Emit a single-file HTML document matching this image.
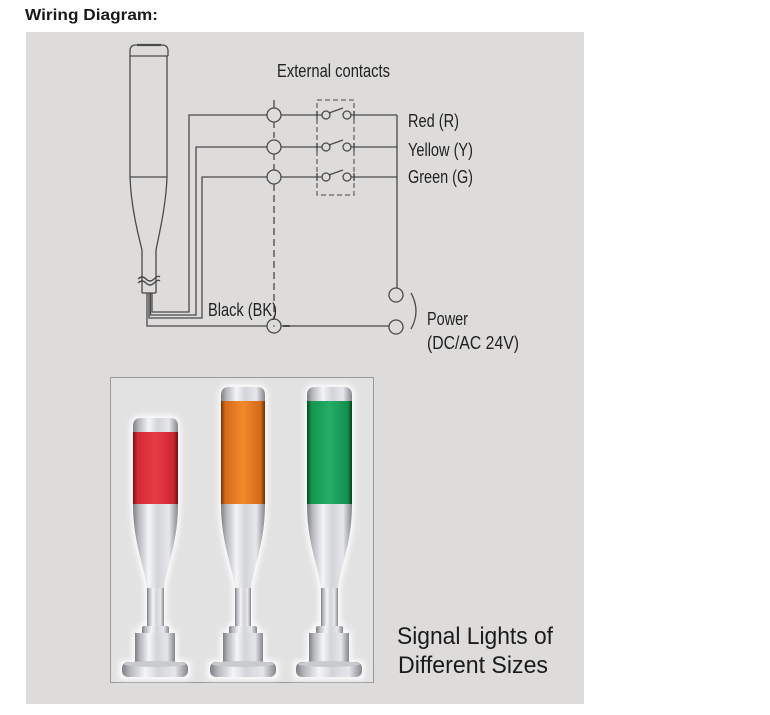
<!DOCTYPE html>
<html><head><meta charset="utf-8"><style>
html,body{margin:0;padding:0;background:#fff;width:770px;height:715px;overflow:hidden}
svg{display:block}
</style></head><body>
<svg width="770" height="715" viewBox="0 0 770 715" xmlns="http://www.w3.org/2000/svg">
<defs>
<linearGradient id="sil" x1="0" y1="0" x2="1" y2="0">
<stop offset="0" stop-color="#7d7f84"/><stop offset="0.12" stop-color="#b4b6ba"/><stop offset="0.35" stop-color="#f4f5f7"/><stop offset="0.55" stop-color="#d2d4d8"/><stop offset="0.8" stop-color="#e6e7ea"/><stop offset="1" stop-color="#85878c"/>
</linearGradient>
<linearGradient id="red" x1="0" y1="0" x2="1" y2="0">
<stop offset="0" stop-color="#7a1216"/><stop offset="0.1" stop-color="#d42a33"/><stop offset="0.5" stop-color="#e83d48"/><stop offset="0.9" stop-color="#cc2530"/><stop offset="1" stop-color="#6e1014"/>
</linearGradient>
<linearGradient id="org" x1="0" y1="0" x2="1" y2="0">
<stop offset="0" stop-color="#7a3408"/><stop offset="0.1" stop-color="#d9691a"/><stop offset="0.5" stop-color="#f08a2c"/><stop offset="0.9" stop-color="#d66a18"/><stop offset="1" stop-color="#6e2e06"/>
</linearGradient>
<linearGradient id="grn" x1="0" y1="0" x2="1" y2="0">
<stop offset="0" stop-color="#064a24"/><stop offset="0.1" stop-color="#139650"/><stop offset="0.5" stop-color="#25ad66"/><stop offset="0.9" stop-color="#12914c"/><stop offset="1" stop-color="#05441f"/>
</linearGradient>
<filter id="glow" x="-30%" y="-10%" width="160%" height="120%"><feGaussianBlur stdDeviation="3"/></filter>
</defs>

<text x="25" y="20" font-family="Liberation Sans, sans-serif" font-weight="bold" font-size="16" fill="#1a1a1a" textLength="133" lengthAdjust="spacingAndGlyphs">Wiring Diagram:</text>

<rect x="26" y="32" width="558" height="672" fill="#dddcdb"/>

<g fill="none" stroke="#4a4a4a" stroke-width="1.3">
<!-- tower outline -->
<path d="M130,56 L130,51 Q130,45 136,45 L162,45 Q168,45 168,51 L168,56"/>
<line x1="137" y1="45" x2="161" y2="45" stroke-width="2.2"/>
<line x1="130" y1="56" x2="168" y2="56"/>
<line x1="130" y1="56" x2="130" y2="177"/>
<line x1="167" y1="56" x2="167" y2="177"/>
<line x1="130" y1="177" x2="167" y2="177"/>
<path d="M130,177 C131,205 137,230 142,250 L142,293"/>
<path d="M167,177 C166,205 160,230 156,250 L156,293"/>
<line x1="142" y1="293" x2="156" y2="293"/>
<path d="M138,279 q4,-4 8,0 t8,0 t6,-2"/>
<path d="M138,283 q4,-4 8,0 t8,0 t6,-2"/>
<!-- wires -->
<path d="M147,293 L147,326 L267,326"/>
<path d="M149,293 L149,318 L202,318 L202,177 L267,177"/>
<path d="M150.5,293 L150.5,315 L196,315 L196,147 L267,147"/>
<path d="M152,293 L152,312 L189,312 L189,115 L267,115"/>
<!-- terminal circles -->
<circle cx="274" cy="115" r="7"/>
<circle cx="274" cy="147" r="7"/>
<circle cx="274" cy="177" r="7"/>
<circle cx="274" cy="326" r="7"/>
<line x1="274" y1="100" x2="274" y2="108"/>
<path d="M274,122 L274,140 M274,154 L274,170" stroke-dasharray="6,4"/>
<line x1="274" y1="184" x2="274" y2="319" stroke-dasharray="7,4"/>
<!-- lines to switches -->
<line x1="281" y1="115" x2="322" y2="115"/>
<line x1="281" y1="147" x2="322" y2="147"/>
<line x1="281" y1="177" x2="322" y2="177"/>
<!-- switch box -->
<rect x="317" y="100" width="37" height="95" stroke-dasharray="5,3" stroke="#666"/>
<circle cx="326" cy="115" r="4"/><circle cx="347" cy="115" r="4"/><line x1="329" y1="113" x2="343" y2="108"/>
<circle cx="326" cy="147" r="4"/><circle cx="347" cy="147" r="4"/><line x1="329" y1="145" x2="343" y2="140"/>
<circle cx="326" cy="177" r="4"/><circle cx="347" cy="177" r="4"/><line x1="329" y1="175" x2="343" y2="170"/>
<line x1="317" y1="111" x2="317" y2="119"/><line x1="354" y1="111" x2="354" y2="119"/>
<line x1="317" y1="143" x2="317" y2="151"/><line x1="354" y1="143" x2="354" y2="151"/>
<line x1="317" y1="173" x2="317" y2="181"/><line x1="354" y1="173" x2="354" y2="181"/>
<line x1="351" y1="115" x2="397" y2="115"/>
<line x1="351" y1="147" x2="397" y2="147"/>
<line x1="351" y1="177" x2="397" y2="177"/>
<line x1="397" y1="115" x2="397" y2="288"/>
<!-- power -->
<circle cx="396" cy="295" r="7"/>
<circle cx="396" cy="327" r="7"/>
<line x1="281" y1="326" x2="389" y2="326"/>
<line x1="283" y1="326" x2="290" y2="326" stroke-width="2"/>
<path d="M411,293 Q421,311 411,329"/>
</g>
<circle cx="274" cy="326" r="0.8" fill="#4a4a4a"/>

<g font-family="Liberation Sans, sans-serif" fill="#222" font-size="18">
<text x="277" y="77" textLength="113" lengthAdjust="spacingAndGlyphs">External contacts</text>
<text x="408" y="127" textLength="51" lengthAdjust="spacingAndGlyphs">Red (R)</text>
<text x="408" y="156" textLength="65" lengthAdjust="spacingAndGlyphs">Yellow (Y)</text>
<text x="408" y="183" textLength="65" lengthAdjust="spacingAndGlyphs">Green (G)</text>
<text x="208" y="316" textLength="69" lengthAdjust="spacingAndGlyphs">Black (BK)</text>
<text x="427" y="325" textLength="41" lengthAdjust="spacingAndGlyphs">Power</text>
<text x="427" y="349" textLength="92" lengthAdjust="spacingAndGlyphs">(DC/AC 24V)</text>
</g>

<!-- photo box -->
<rect x="110.5" y="377.5" width="263" height="305" fill="#e2e2e2" stroke="#9a9a9a" stroke-width="1"/>

<!-- glows -->
<g fill="#ffffff" stroke="#ffffff" stroke-width="5" filter="url(#glow)" opacity="0.95">
<path d="M133,426 Q133,418 141,418 L170,418 Q178,418 178,426 L178,504 C178,545 165,570 164,590 L164,626 L168,626 L168,633 L175,633 L175,663 L188,663 L188,677 L122,677 L122,663 L135,663 L135,633 L142,633 L142,626 L147,626 L147,590 C146,570 133,545 133,504 Z"/>
<path d="M221,395 Q221,387 229,387 L257,387 Q265,387 265,395 L265,504 C265,545 252,570 251,590 L251,626 L256,626 L256,633 L263,633 L263,663 L276,663 L276,677 L210,677 L210,663 L223,663 L223,633 L230,633 L230,626 L235,626 L235,590 C234,570 221,545 221,504 Z"/>
<path d="M307,395 Q307,387 315,387 L344,387 Q352,387 352,395 L352,504 C352,545 339,570 338,590 L338,626 L342,626 L342,633 L349,633 L349,663 L362,663 L362,677 L296,677 L296,663 L309,663 L309,633 L316,633 L316,626 L321,626 L321,590 C320,570 307,545 307,504 Z"/>
</g>

<!-- red light -->
<g>
<path d="M133,504 C133,545 146,570 147,590 L164,590 C165,570 178,545 178,504 Z" fill="url(#sil)"/>
<rect x="147" y="588" width="17" height="40" fill="url(#sil)"/>
<rect x="142" y="626" width="27" height="8" rx="2" fill="url(#sil)"/>
<rect x="135" y="633" width="40" height="31" fill="url(#sil)"/>
<rect x="122" y="662" width="66" height="15" rx="6" fill="url(#sil)"/>
<ellipse cx="155" cy="664" rx="31" ry="3" fill="#c8cacd"/>
<rect x="133" y="430" width="45" height="74" fill="url(#red)"/>
<path d="M133,432 L133,426 Q133,418 141,418 L170,418 Q178,418 178,426 L178,432 Z" fill="url(#sil)"/>
</g>
<!-- orange light -->
<g>
<path d="M221,504 C221,545 234,570 235,590 L251,590 C252,570 265,545 265,504 Z" fill="url(#sil)"/>
<rect x="235" y="588" width="16" height="40" fill="url(#sil)"/>
<rect x="229" y="626" width="28" height="8" rx="2" fill="url(#sil)"/>
<rect x="223" y="633" width="40" height="31" fill="url(#sil)"/>
<rect x="210" y="662" width="66" height="15" rx="6" fill="url(#sil)"/>
<ellipse cx="243" cy="664" rx="31" ry="3" fill="#c8cacd"/>
<rect x="221" y="399" width="44" height="105" fill="url(#org)"/>
<path d="M221,401 L221,395 Q221,387 229,387 L257,387 Q265,387 265,395 L265,401 Z" fill="url(#sil)"/>
</g>
<!-- green light -->
<g>
<path d="M307,504 C307,545 320,570 321,590 L338,590 C339,570 352,545 352,504 Z" fill="url(#sil)"/>
<rect x="321" y="588" width="17" height="40" fill="url(#sil)"/>
<rect x="316" y="626" width="27" height="8" rx="2" fill="url(#sil)"/>
<rect x="309" y="633" width="40" height="31" fill="url(#sil)"/>
<rect x="296" y="662" width="66" height="15" rx="6" fill="url(#sil)"/>
<ellipse cx="329" cy="664" rx="31" ry="3" fill="#c8cacd"/>
<rect x="307" y="399" width="45" height="105" fill="url(#grn)"/>
<path d="M307,401 L307,395 Q307,387 315,387 L344,387 Q352,387 352,395 L352,401 Z" fill="url(#sil)"/>
</g>

<g font-family="Liberation Sans, sans-serif" fill="#1a1a1a" font-size="24">
<text x="397" y="644" textLength="156" lengthAdjust="spacingAndGlyphs">Signal Lights of</text>
<text x="398" y="673" textLength="150" lengthAdjust="spacingAndGlyphs">Different Sizes</text>
</g>
</svg>
</body></html>
